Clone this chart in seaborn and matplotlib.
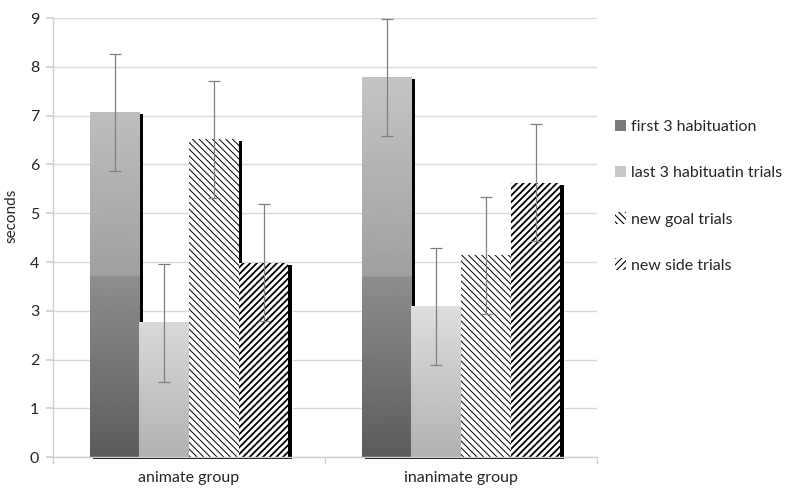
import numpy as np
import pandas as pd
import matplotlib
matplotlib.use('Agg')
import matplotlib.pyplot as plt
import matplotlib.patches as mpatches
import matplotlib.transforms as mtransforms
import seaborn as sns

# data
groups = ['animate group', 'inanimate group']
conditions = ['first 3 habituation', 'last 3 habituatin trials',
              'new goal trials', 'new side trials']
seconds = {
    'first 3 habituation': [7.07, 7.79],
    'last 3 habituatin trials': [2.75, 3.08],
    'new goal trials': [6.52, 4.14],
    'new side trials': [3.99, 5.63],
}
errors = {
    'first 3 habituation': [1.20, 1.20],
    'last 3 habituatin trials': [1.20, 1.20],
    'new goal trials': [1.20, 1.20],
    'new side trials': [1.20, 1.20],
}
y_ticks = list(range(0, 10))

rows = []
for c in conditions:
    for g, v in zip(groups, seconds[c]):
        rows.append({'group': g, 'condition': c, 'seconds': v})
df = pd.DataFrame(rows)

sns.set_theme(style='white')
plt.rcParams['font.family'] = ['Lato', 'DejaVu Sans']
plt.rcParams['hatch.linewidth'] = 0.8

fig = plt.figure(figsize=(7.91, 4.91), dpi=100)
ax = fig.add_axes([0.067, 0.069, 0.688, 0.894])

palette = ['#7a7a7a', '#c8c8c8', 'white', 'white']
sns.barplot(data=df, x='group', y='seconds', hue='condition', order=groups,
            hue_order=conditions, palette=palette, saturation=1, width=0.73,
            errorbar=None, legend=False, ax=ax, linewidth=0)

bar_sets = list(ax.containers)
ax.set_ylim(0, 9)
ax.set_xlim(-0.5, 1.5)


def grey_first(y):
    y = np.asarray(y)
    lo = 0x5c + (0x8e - 0x5c) * y / 3.7
    hi = 0xa0 + (0xc6 - 0xa0) * (y - 3.7) / (8.0 - 3.7)
    return np.where(y < 3.7, lo, hi) / 255.0


def grey_last(y):
    y = np.asarray(y)
    return np.clip(0xb2 + (0xde - 0xb2) * y / 3.1, 0, 0xe2) / 255.0


gradients = [grey_first, grey_last]
hatches = [None, None, '\\' * 5, '/' * 5]
hatch_lw = [None, None, 0.7, 1.3]

# shadow drawn a few pixels right / down of each bar
shadow_tr = mtransforms.offset_copy(ax.transData, fig=fig, x=3.5, y=-2,
                                    units='dots')

for i, cont in enumerate(bar_sets):
    for p in cont.patches:
        x0, w, h = p.get_x(), p.get_width(), p.get_height()
        shadow = mpatches.Rectangle((x0, 0), w, h, transform=shadow_tr,
                                    facecolor='black', edgecolor='none',
                                    zorder=0.9, clip_on=False)
        ax.add_patch(shadow)
        p.set_zorder(1)
        if i < 2:
            ys = np.linspace(0, h, 200)
            img = gradients[i](ys)[:, None]
            ax.imshow(img, cmap='gray', vmin=0, vmax=1, origin='lower',
                      extent=(x0, x0 + w, 0, h), aspect='auto',
                      interpolation='bilinear', zorder=1.1)
        else:
            p.set_hatch(hatches[i])
            p.set_edgecolor('black')
            p.set_linewidth(0)
            if hasattr(p, 'set_hatch_linewidth'):
                p.set_hatch_linewidth(hatch_lw[i])

    centers = [p.get_x() + p.get_width() / 2 for p in cont.patches]
    ax.errorbar(centers, seconds[conditions[i]], yerr=errors[conditions[i]],
                fmt='none', ecolor='#808080', elinewidth=0.9, capsize=4,
                capthick=0.9, zorder=5)

ax.set_ylim(0, 9)
ax.set_xlim(-0.5, 1.5)
ax.set_yticks(y_ticks)
ax.yaxis.grid(True, color='#d9d9d9', linewidth=1)
ax.set_axisbelow(True)

for s in ['top', 'right']:
    ax.spines[s].set_visible(False)
for s in ['left', 'bottom']:
    ax.spines[s].set_color('#d0d0d0')
    ax.spines[s].set_linewidth(1)
ax.spines['bottom'].set_zorder(3)

ax.set_xticks([0, 1])
ax.set_xticks([-0.5, 0.5, 1.5], minor=True)
ax.tick_params(axis='x', which='major', length=0, pad=10, labelsize=11.5,
               labelcolor='#262626')
ax.tick_params(axis='x', which='minor', length=5, color='#d0d0d0', bottom=True)
ax.tick_params(axis='y', length=5, color='#d0d0d0', left=True, pad=5,
               labelsize=11.5, labelcolor='#262626')
ax.set_xlabel('')
ax.set_ylabel('seconds', fontsize=11, color='#262626')
ax.yaxis.set_label_coords(-0.064, 0.55)

handles = [c.patches[0] for c in bar_sets]
leg = fig.legend(handles, conditions, loc='center left',
                 bbox_to_anchor=(0.759, 0.6), frameon=False, fontsize=11.5,
                 handlelength=0.7, handleheight=0.7, handletextpad=0.3,
                 labelspacing=2.0, labelcolor='#262626')

fig.savefig('out.png', dpi=100)
